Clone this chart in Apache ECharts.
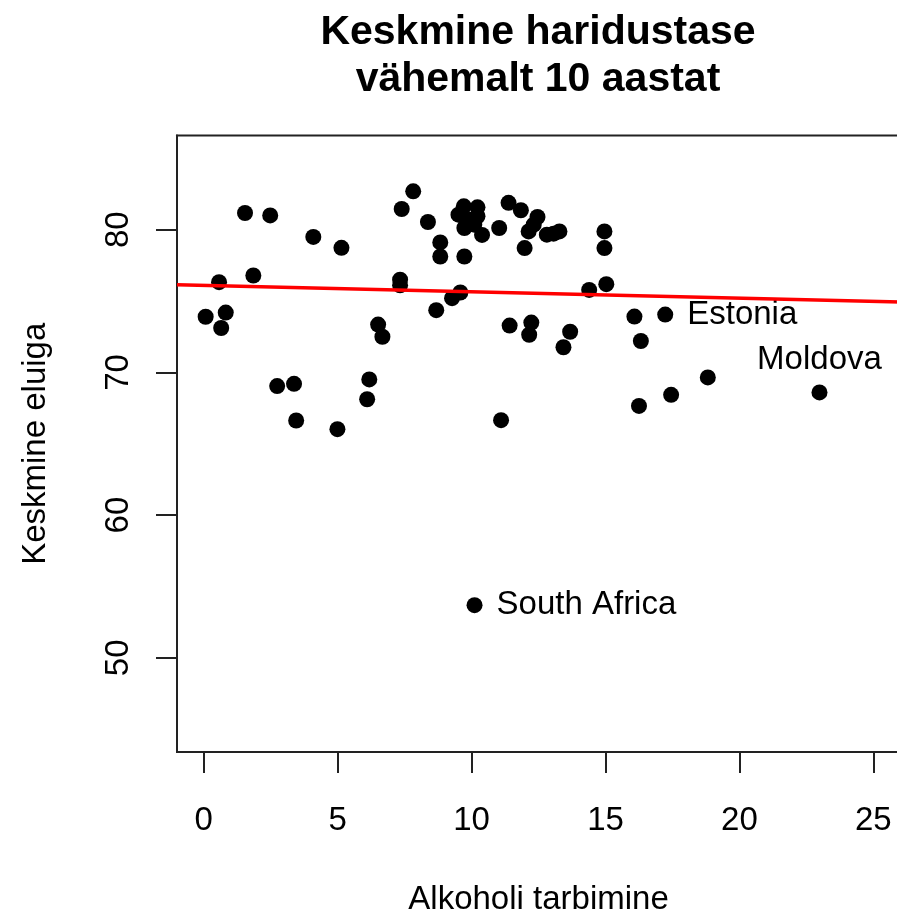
<!DOCTYPE html>
<html>
<head>
<meta charset="utf-8">
<script src="https://cdn.jsdelivr.net/npm/echarts@6/dist/echarts.min.js"></script>
<style>
  html, body { margin: 0; padding: 0; background: #fff; overflow: hidden; }
  /* plot frame runs on past the right edge of the page, so the canvas is a little wider */
  #chart { width: 905px; height: 913px; }
</style>
</head>
<body>
<div id="chart"></div>
<script>
// Alcohol consumption vs. life expectancy, countries with >= 10 years schooling
const alcohol = [
  0.07, 0.57, 0.65, 0.82, 1.54, 1.85, 2.48, 2.74, 3.37, 3.45,
  4.09, 4.99, 5.14, 6.10, 6.18, 6.51, 6.67, 7.33, 7.33, 7.39,
  7.82, 8.37, 8.68, 8.83, 8.83, 9.27, 9.58, 9.51, 9.71, 9.73,
  9.73, 9.95, 10.10, 10.11, 10.22, 10.22, 10.39, 11.03, 11.10, 11.38,
  11.42, 11.84, 11.98, 12.13, 12.15, 12.23, 12.32, 12.46, 12.81, 13.06,
  13.28, 13.43, 13.68, 14.39, 14.96, 14.96, 15.03, 16.08, 16.25, 16.32,
  17.23, 17.45, 18.82, 22.99
];
const lifeExp = [
  73.90, 76.32, 73.11, 74.19, 81.17, 76.79, 81.00, 69.04, 69.20, 66.63,
  79.49, 66.02, 78.73, 68.12, 69.51, 73.35, 72.50, 76.50, 76.10, 81.45,
  82.69, 80.54, 74.36, 79.11, 78.12, 75.20, 75.60, 81.05, 81.64, 80.12,
  78.12, 80.70, 80.35, 53.69, 81.57, 80.94, 79.63, 80.12, 66.65, 81.88,
  73.28, 81.36, 78.71, 79.88, 72.64, 73.49, 80.35, 80.89, 79.65, 79.72,
  79.88, 71.76, 72.85, 75.78, 79.88, 78.71, 76.18, 73.91, 67.65, 72.20,
  74.05, 68.43, 69.65, 68.60
];
// Countries that get a text label, by index into the arrays above
const labelled = { 33: 'South Africa', 60: 'Estonia', 63: 'Moldova' };
const labelSide = { 'South Africa': 'right', 'Estonia': 'right', 'Moldova': 'top' };

// Fitted line y = intercept + slope * x
const intercept = 76.09;
const slope = -0.0443;

const xTicks = [0, 5, 10, 15, 20, 25];
const yTicks = [50, 60, 70, 80];
const xRange = [-1, 26];
const yRange = [43.4, 86.6];

const FONT = 'Liberation Sans, Arial, sans-serif';
const INK = '#000';
const FRAME = '#222';
const TICK_LEN = 21;

const points = alcohol.map((x, i) => {
  const item = { value: [x, lifeExp[i]] };
  const name = labelled[i];
  if (name) {
    const side = labelSide[name];
    item.label = {
      show: true,
      formatter: name,
      position: side,
      distance: side === 'top' ? 8 : 14,
      color: INK,
      fontFamily: FONT,
      fontSize: 33
    };
  }
  return item;
});

const fitLine = xRange.map(x => [x, intercept + slope * x]);

// Left-hand tick marks: a narrow strip grid just outside the frame
const tickSegments = yTicks.map(v => ({ coords: [[0, v], [1, v]] }));

const chart = echarts.init(document.getElementById('chart'), null, { renderer: 'canvas' });
chart.setOption({
  animation: false,
  backgroundColor: '#fff',
  title: {
    text: 'Keskmine haridustase\nvähemalt 10 aastat',
    left: 538,
    top: 9,
    textAlign: 'center',
    padding: 0,
    textStyle: {
      fontFamily: FONT,
      fontWeight: 'bold',
      fontSize: 41,
      lineHeight: 47,
      color: '#000'
    }
  },
  grid: [
    {
      left: 177,
      top: 135.5,
      right: 4.9,
      bottom: 161,
      show: true,
      borderColor: FRAME,
      borderWidth: 2,
      backgroundColor: 'transparent',
      containLabel: false,
      outerBoundsMode: 'none'
    },
    {
      left: 177 - TICK_LEN,
      top: 135.5,
      right: 905 - 177,
      bottom: 161,
      show: false,
      containLabel: false,
      outerBoundsMode: 'none'
    }
  ],
  xAxis: [
    {
      type: 'value',
      gridIndex: 0,
      min: xRange[0],
      max: xRange[1],
      name: 'Alkoholi tarbimine',
      nameLocation: 'middle',
      nameGap: 131,
      nameTextStyle: { fontFamily: FONT, fontSize: 33, color: INK },
      axisLine: { show: true, onZero: false, lineStyle: { color: FRAME, width: 2 } },
      splitLine: { show: false },
      axisTick: {
        show: true,
        customValues: xTicks,
        length: TICK_LEN,
        lineStyle: { color: FRAME, width: 2 }
      },
      axisLabel: {
        customValues: xTicks,
        margin: 52,
        fontFamily: FONT,
        fontSize: 33,
        color: INK
      }
    },
    {
      type: 'value',
      gridIndex: 1,
      show: false,
      min: 0,
      max: 1
    }
  ],
  yAxis: [
    {
      type: 'value',
      gridIndex: 0,
      min: yRange[0],
      max: yRange[1],
      name: 'Keskmine eluiga',
      nameLocation: 'middle',
      nameRotate: 90,
      nameGap: 125,
      nameTextStyle: { fontFamily: FONT, fontSize: 33, color: INK },
      axisLine: { show: true, onZero: false, lineStyle: { color: FRAME, width: 2 } },
      splitLine: { show: false },
      axisTick: {
        show: true,
        customValues: yTicks,
        length: TICK_LEN,
        lineStyle: { color: FRAME, width: 2 }
      },
      axisLabel: {
        customValues: yTicks,
        rotate: 90,
        margin: 42,
        fontFamily: FONT,
        fontSize: 33,
        color: INK
      }
    },
    {
      // same scale, set one tick-length out, ticks pointing back at the frame
      type: 'value',
      gridIndex: 0,
      position: 'left',
      offset: TICK_LEN,
      min: yRange[0],
      max: yRange[1],
      axisLine: { show: false, onZero: false },
      splitLine: { show: false },
      axisLabel: { show: false },
      axisTick: {
        show: true,
        inside: true,
        customValues: yTicks,
        length: TICK_LEN,
        lineStyle: { color: FRAME, width: 2 }
      }
    },
    {
      type: 'value',
      gridIndex: 1,
      show: false,
      min: yRange[0],
      max: yRange[1]
    }
  ],
  series: [
    {
      type: 'scatter',
      xAxisIndex: 0,
      yAxisIndex: 0,
      data: points,
      symbol: 'circle',
      symbolSize: 16,
      itemStyle: { color: '#000', opacity: 1 },
      z: 3
    },
    {
      type: 'line',
      xAxisIndex: 0,
      yAxisIndex: 0,
      data: fitLine,
      symbol: 'none',
      lineStyle: { color: '#ff0000', width: 3.5 },
      z: 4
    },
    {
      type: 'lines',
      coordinateSystem: 'cartesian2d',
      xAxisIndex: 1,
      yAxisIndex: 2,
      silent: true,
      clip: false,
      data: tickSegments,
      lineStyle: { color: FRAME, width: 2, opacity: 1, curveness: 0 },
      zlevel: 1,
      z: 10
    }
  ]
});
</script>
</body>
</html>
